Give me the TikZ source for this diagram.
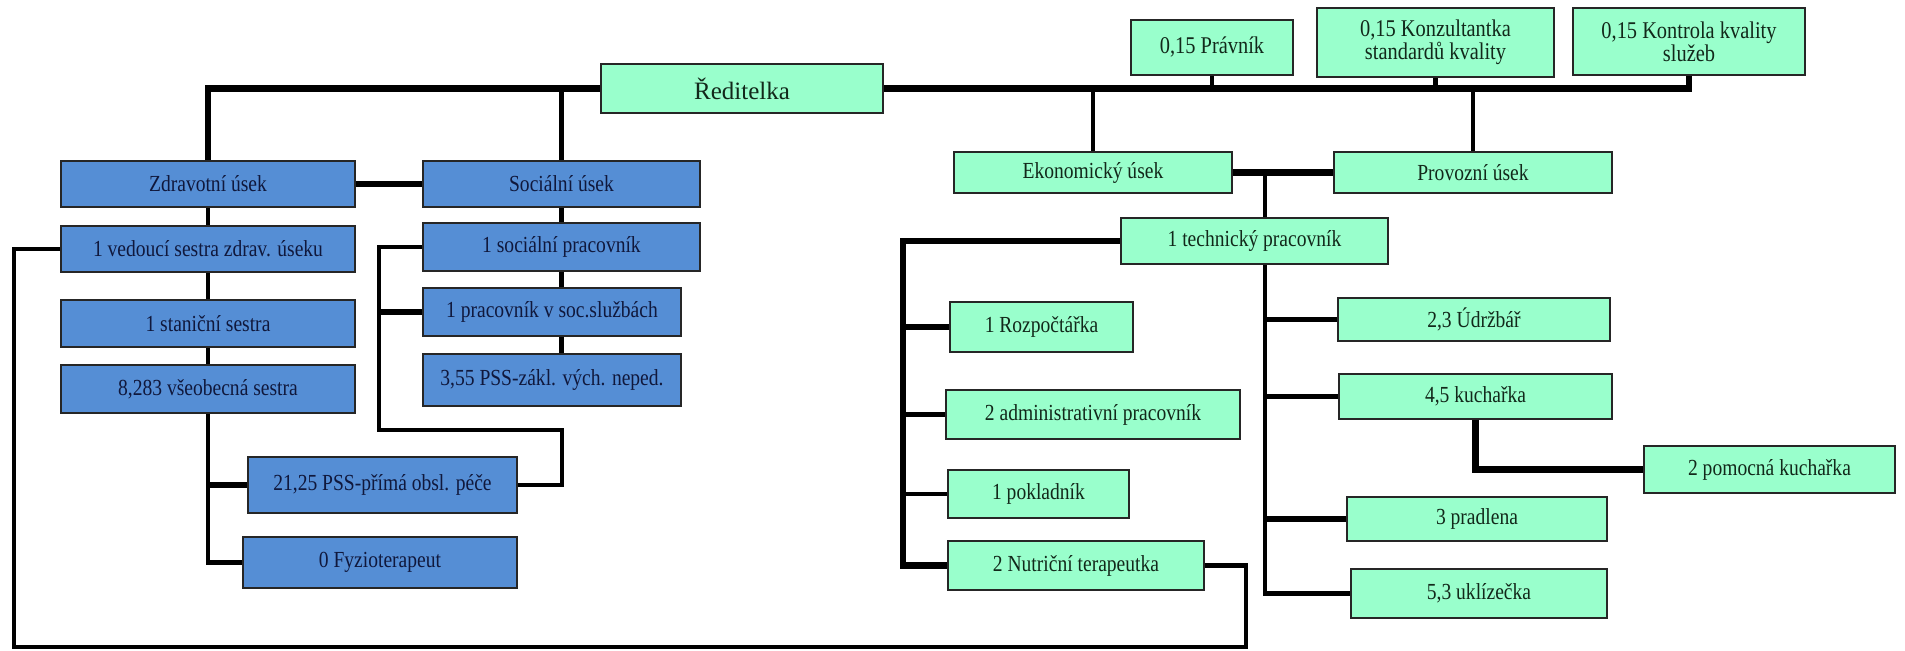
\documentclass[tikz,border=0pt]{standalone}
\usepackage{fontspec}
\setmainfont{Liberation Serif}
\newfontfamily\condserif{Liberation Serif}[FakeStretch=0.85]
\usepackage{xcolor}
\usepackage{tikz}
\definecolor{boxblue}{RGB}{85,142,213}
\definecolor{boxgreen}{RGB}{153,255,204}
\definecolor{txtblue}{RGB}{16,24,60}
\definecolor{txtgreen}{RGB}{18,40,26}
\tikzset{
  style blue/.style={
    draw=black!85, line width=0.8pt, fill=boxblue, text=txtblue,
    font=\condserif\fontsize{11.5}{13}\selectfont, inner sep=0pt, align=center,
  },
  style green/.style={
    draw=black!85, line width=0.8pt, fill=boxgreen, text=txtgreen,
    font=\condserif\fontsize{11.5}{13}\selectfont, inner sep=0pt, align=center,
  },
  wh/.style 2 args={minimum width=#1*0.5pt, minimum height=#2*0.5pt},
  conn/.style={line width=2.2pt},
  conn thick/.style={line width=3.4pt},
}

\begin{document}
\begin{tikzpicture}[x=0.5pt,y=-0.5pt]
    \useasboundingbox (0,0) rectangle (1905,651);
    \begin{scope}[every node/.style={style blue}]
        \node[wh={294}{46}] (zdr) at (208,184) {Zdravotní úsek};
        \node[wh={277}{46}] (soc) at (561.5,184) {Sociální úsek};

        \node[wh={294}{46}] (ved) at (208,249) {1 vedoucí sestra zdrav. úseku};
        \node[wh={294}{47}] (sta) at (208,323.5) {1 staniční sestra};
        \node[wh={294}{48}] (vse) at (208,389) {8,283 všeobecná sestra};

        \node[wh={277}{48}] (socp) at (561.5,247) {1 sociální pracovník};
        \node[wh={258}{48}] (pss) at (552,312) {1 pracovník v soc.službách};
        \node[wh={258}{52}] (zak) at (552,380) {3,55 PSS-zákl. vých. neped.};

        \node[wh={269}{56}] (pri) at (382.5,485) {21,25 PSS-přímá obsl. péče};
        \node[wh={274}{51}] (fyz) at (380,562.5) {0 Fyzioterapeut};
    \end{scope}
    \begin{scope}[every node/.style={style green}]
        \node[wh={282}{49}, font=\fontsize{12.5}{14}\selectfont] (red) at (742,88.5) {Ředitelka};

        \node[wh={162}{55}, font=\condserif\fontsize{12}{11.5}\selectfont] (prav) at (1212,47.5) {0,15 Právník};
        \node[wh={237}{69}, font=\condserif\fontsize{12}{11.5}\selectfont] (konz) at (1435.5,42.5) {0,15 Konzultantka\\standardů kvality};
        \node[wh={232}{67}, font=\condserif\fontsize{12}{11.5}\selectfont] (kontr) at (1689,41.5) {0,15 Kontrola kvality\\služeb};

        \node[wh={278}{41}] (eko) at (1093,172.5) {Ekonomický úsek};
        \node[wh={278}{41}] (prov) at (1473,172.5) {Provozní úsek};
        \node[wh={267}{46}] (tech) at (1254.5,241) {1 technický pracovník};

        \node[wh={183}{50}] (rozp) at (1041.5,327) {1 Rozpočtářka};
        \node[wh={294}{49}] (adm) at (1093,414.5) {2 administrativní pracovník};
        \node[wh={181}{48}] (pok) at (1038.5,494) {1 pokladník};
        \node[wh={256}{49}] (nut) at (1076,565.5) {2 Nutriční terapeutka};

        \node[wh={272}{43}] (udr) at (1474,319.5) {2,3 Údržbář};
        \node[wh={273}{45}] (kuch) at (1475.5,396.5) {4,5 kuchařka};
        \node[wh={251}{47}] (pom) at (1769.5,469.5) {2 pomocná kuchařka};
        \node[wh={260}{44}] (pra) at (1477,519) {3 pradlena};
        \node[wh={256}{49}] (ukl) at (1479,593.5) {5,3 uklízečka};
    \end{scope}

    % top line
    \draw[conn thick] (zdr.north) |- (red.west);
    \draw[conn thick] (red.east) -| (kontr.south);
    \draw[conn] (soc.north) -- (soc.north |- red.west);
    \draw[conn] (prav.south) -- (prav.south |- red.east);
    \draw[conn] (konz.south) -- (konz.south |- red.east);
    \draw[conn] (eko.north) -- (eko.north |- red.east);
    \draw[conn] (prov.north) -- (prov.north |- red.east);

    % zdravotni / socialni usek
    \draw[conn thick] (zdr.east) -- (soc.west);
    \draw[conn] (zdr.south) -- (ved.north);
    \draw[conn] (ved.south) -- (sta.north);
    \draw[conn] (sta.south) -- (vse.north);
    \draw[conn] (soc.south) -- (socp.north);
    \draw[conn] (socp.south) -- (socp.south |- pss.north);
    \draw[conn] (socp.south |- pss.south) -- (socp.south |- zak.north);

    \coordinate (brL) at (379,430);
    \coordinate (brR) at (562,430);
    \draw[conn] (socp.west) -| (brL) -- (brR) |- (pri.east);
    \draw[conn thick] (pss.west) -- (pss.west -| brL);
    \draw[conn] (vse.south) |- (fyz.west);
    \draw[conn thick] (vse.south |- pri.west) -- (pri.west);

    \coordinate (loopL) at (14,647);
    \coordinate (loopR) at (1246,647);
    \draw[conn] (ved.west) -| (loopL) -- (loopR) |- (nut.east);

    % ekonomicky / provozni usek
    \draw[conn thick] (eko.east) -- (prov.west);
    \coordinate (spine) at (1265,172);
    \draw[conn] (spine) -- (spine |- tech.north);
    \draw[conn] (spine |- tech.south) |- (ukl.west);
    \draw[conn] (udr.west) -- (udr.west -| spine);
    \draw[conn] (kuch.west) -- (kuch.west -| spine);
    \draw[conn thick] (pra.west) -- (pra.west -| spine);
    \draw[conn thick] (kuch.south) |- (pom.west);

    \coordinate (left) at (903,240);
    \draw[conn thick] (tech.west) -| (left |- nut.west) -- (nut.west);
    \draw[conn thick] (rozp.west) -- (rozp.west -| left);
    \draw[conn] (adm.west) -- (adm.west -| left);
    \draw[conn] (pok.west) -- (pok.west -| left);
\end{tikzpicture}
\end{document}
